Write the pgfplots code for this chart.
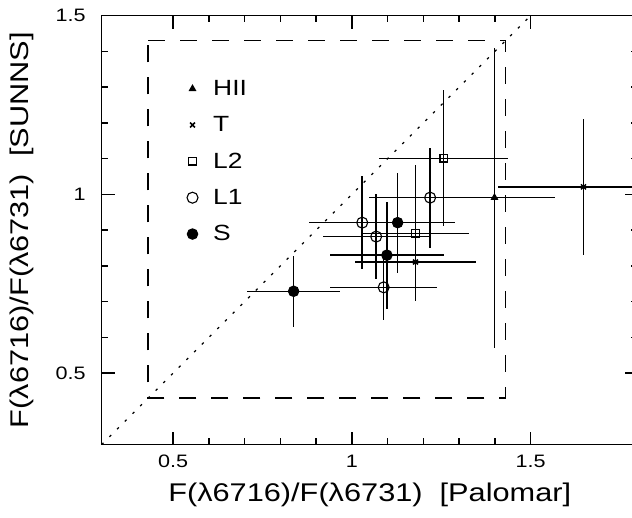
\documentclass[border=0pt]{standalone}
\usepackage{fontspec}
\setmainfont[FakeStretch=1.2]{Liberation Sans}
\usepackage{pgfplots}
\pgfplotsset{compat=1.18}

% points with x and y error bars, no caps
\pgfplotsset{
  eb/.style={only marks, black, mark options={line width=1.1pt},
    error bars/x dir=both, error bars/x explicit,
    error bars/y dir=both, error bars/y explicit,
    error bars/error mark=none,
    error bars/error bar style={line width=1.5pt}},
}

\begin{document}
\begin{tikzpicture}
% page = reference crop; the axis sits with its lower left corner at (0,0)
\useasboundingbox (-101.7pt,-72.7pt) rectangle (530.3pt,444.6pt);
\begin{axis}[
  at={(0pt,0pt)}, anchor=south west,
  scale only axis,
  width=536.1pt, height=428.9pt,
  xmin=0.3, xmax=1.8, ymin=0.3, ymax=1.5,
  xtick={0.5,1,1.5}, ytick={0.5,1,1.5},
  minor tick num=4,
  major tick length=13pt, minor tick length=6.5pt,
  every tick/.style={black, line width=1.4pt},
  line width=1.4pt,
  xticklabel style={font=\fontsize{18}{20}\selectfont, yshift=-6pt,
    /pgf/number format/assume math mode=true},
  yticklabel style={font=\fontsize{18}{20}\selectfont, xshift=-12pt,
    /pgf/number format/assume math mode=true},
  xlabel={F(λ6716)/F(λ6731)\ \ [Palomar]},
  ylabel={F(λ6716)/F(λ6731)\ \ [SUNNS]},
  every axis x label/.style={at={(axis description cs:0.5,-0.1338)}, anchor=base,
    font=\fontsize{25.6}{28}\selectfont},
  every axis y label/.style={at={(axis description cs:-0.1492,0.5)}, rotate=90, anchor=center,
    font=\fontsize{25.6}{28}\selectfont},
  legend image code/.code={\draw[#1] plot coordinates {(0pt,0pt)}; \path (-6pt,0pt) (18pt,0pt);},
  legend style={at={(axis cs:0.525,1.332)}, anchor=north west, draw=none, fill=none,
    font=\fontsize{22}{24}\selectfont, row sep=15.6pt},
  legend cell align=left,
]

% HII
\addplot[eb, mark=triangle*, mark size=3.5pt] coordinates {
  (1.399,0.991) +- (0.17,0.42)
};
\addlegendentry{HII}

% T
\addplot[eb, mark=x, mark size=3.5pt, mark options={line width=1.5pt}] coordinates {
  (1.178,0.811) +- (0.17,0.11)
  (1.648,1.021) +- (0.24,0.19)
};
\addlegendentry{T}

% L2
\addplot[eb, mark=square, mark size=3.7pt] coordinates {
  (1.178,0.891) +- (0.15,0.19)
  (1.257,1.101) +- (0.18,0.19)
};
\addlegendentry{L2}

% L1
\addplot[eb, mark=o, mark size=5.5pt] coordinates {
  (1.029,0.921) +- (0.15,0.13)
  (1.068,0.882) +- (0.15,0.12)
  (1.089,0.740) +- (0.15,0.09)
  (1.219,0.991) +- (0.17,0.14)
};
\addlegendentry{L1}

% S
\addplot[eb, mark=*, mark size=5.2pt] coordinates {
  (0.837,0.729) +- (0.13,0.10)
  (1.128,0.921) +- (0.16,0.14)
  (1.098,0.830) +- (0.16,0.15)
};
\addlegendentry{S}

% one-to-one line
\addplot[black, line width=1.3pt, dash pattern=on 2.5pt off 8.4pt, forget plot]
  coordinates {(0.3,0.3) (1.5,1.5)};

% dashed box
\addplot[black, line width=1.5pt, dash pattern=on 17pt off 15pt, forget plot]
  coordinates {(0.43,1.43) (1.43,1.43) (1.43,0.43) (0.43,0.43) (0.43,1.43)};

\end{axis}
\end{tikzpicture}
\end{document}
